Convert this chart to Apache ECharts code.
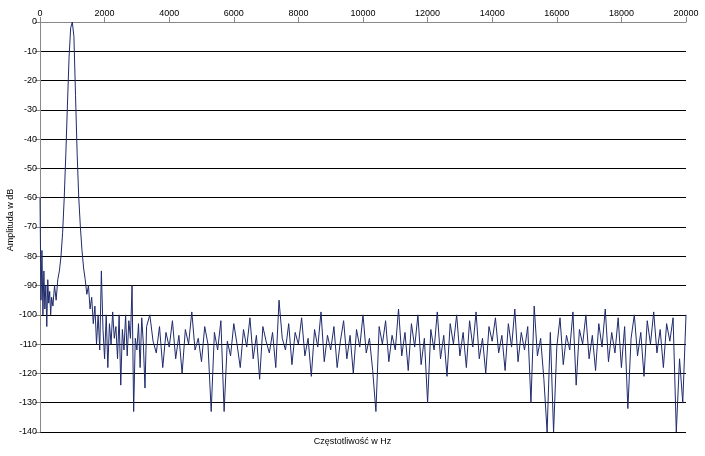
<!DOCTYPE html>
<html><head><meta charset="utf-8">
<script src="https://cdn.jsdelivr.net/npm/echarts@6/dist/echarts.min.js"></script>
<style>html,body{margin:0;background:#fff}#c{width:705px;height:456px}</style>
</head><body><div id="c"></div>
<script>
const lowFreq = [0,30,60,90,120,150,180,210,240,270,300,330,360,400,450,500,550,600,650,700,750,800,850,900,950,1000,1050,1100,1150,1200,1250,1300,1350,1400,1450,1500,1550,1600,1650,1700,1750,1800,1850,1900,1950,2000,2050,2100,2150,2200,2250,2300,2350,2400,2450,2500,2550,2600,2650,2700,2750,2800,2850,2900,2950,3000,3050,3100,3150,3200,3250,3300];
const lowAmp = [-60,-95,-78,-100,-85,-98,-90,-104,-88,-96,-92,-100,-94,-97,-90,-95,-88,-85,-80,-72,-60,-45,-28,-12,-2,0,-5,-25,-45,-60,-70,-78,-84,-88,-93,-90,-98,-94,-103,-97,-110,-100,-112,-85,-105,-115,-100,-118,-103,-110,-99,-108,-104,-115,-100,-124,-105,-112,-100,-114,-102,-108,-90,-133,-108,-112,-103,-118,-101,-110,-125,-104];
const noiseStart = 3400, noiseStep = 100;
const noiseAmp = [
-100,-109,-113,-104,-118,-106,-111,
-102,-115,-107,-120,-105,-110,-99,-112,-108,-116,
-104,-110,-133,-106,-112,-102,-133,-109,-114,-103,
-110,-118,-105,-111,-101,-115,-107,-122,-104,-109,
-113,-106,-118,-95,-108,-112,-103,-117,-106,-110,
-101,-114,-108,-121,-105,-111,-99,-116,-107,-112,
-104,-118,-109,-102,-115,-107,-120,-105,-111,-100,
-113,-108,-119,-133,-104,-110,-102,-116,-107,-112,
-98,-114,-106,-119,-103,-111,-100,-117,-108,-130,
-105,-112,-99,-115,-107,-121,-103,-110,-100,-114,
-106,-118,-102,-111,-99,-115,-108,-120,-104,-109,
-101,-113,-107,-119,-103,-111,-98,-116,-106,-112,
-104,-130,-97,-114,-108,-122,-140,-106,-140,-111,
-101,-117,-107,-112,-99,-124,-105,-110,-100,-115,
-107,-119,-103,-111,-98,-116,-106,-113,-101,-118,
-104,-132,-108,-100,-114,-106,-121,-102,-110,-99,
-113,-105,-118,-103,-109,-101,-140,-115,-130,-100];
const data = lowFreq.map((f,i)=>[f,lowAmp[i]]).concat(noiseAmp.map((a,i)=>[noiseStart+i*noiseStep,a]));
const ch = echarts.init(document.getElementById('c'));
const ff = 'Liberation Sans, Arial, sans-serif';
ch.setOption({
  animation:false,
  textStyle:{fontFamily:ff},
  grid:{left:40,right:19,top:22,bottom:24,containLabel:false,outerBoundsMode:'none'},
  xAxis:{type:'value',position:'top',min:0,max:20000,interval:2000,
    axisLine:{lineStyle:{color:'#888'}},axisTick:{show:true,lineStyle:{color:'#888'}},
    axisLabel:{color:'#000',fontSize:9,margin:4,formatter:v=>String(v)},splitLine:{show:false}},
  yAxis:{type:'value',min:-140,max:0,interval:10,
    axisLine:{show:true,lineStyle:{color:'#888'}},axisTick:{show:true,lineStyle:{color:'#888'}},
    axisLabel:{color:'#000',fontSize:9,margin:3,formatter:v=>String(v)},splitLine:{lineStyle:{color:'#000',width:1}}},
  graphic:[
    {type:'text',left:'center',top:437,style:{text:'Częstotliwość w Hz',fontSize:9,fill:'#000',fontFamily:ff}},
    {type:'text',x:6,y:220,rotation:Math.PI/2,style:{text:'Amplituda w dB',fontSize:9,fill:'#000',fontFamily:ff,align:'center',verticalAlign:'top'}}
  ],
  series:[{type:'line',data:data,symbol:'none',lineStyle:{color:'#1f2a6b',width:1}}]
});
</script></body></html>
